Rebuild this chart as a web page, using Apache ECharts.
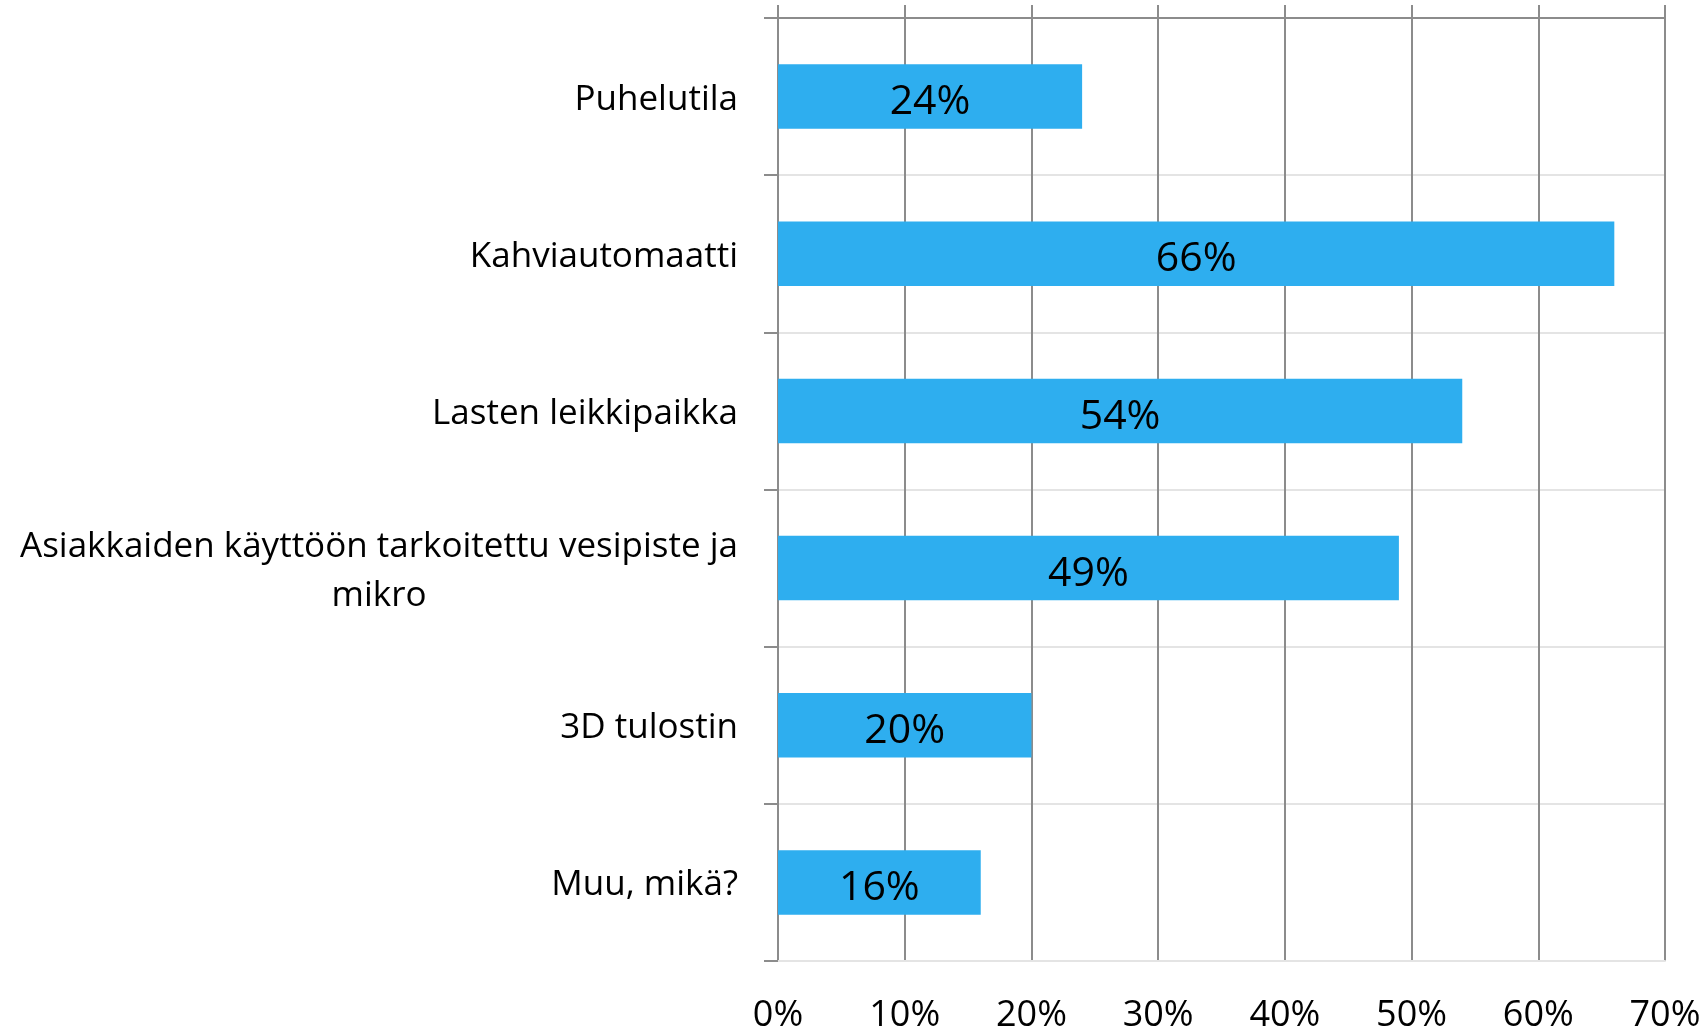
<!doctype html>
<html>

<head>
    <meta charset="utf-8">
    <script src="https://cdn.jsdelivr.net/npm/echarts@6/dist/echarts.min.js"></script>
    <style>
        html, body {
            margin: 0;
            padding: 0;
            background: #fff;
        }

        #chart {
            width: 1706px;
            height: 1034px;
        }
    </style>
</head>

<body>
    <div id="chart"></div>
</body>

<script type="text/javascript">
    // 类目（从上到下）
    var categories = [
        'Puhelutila',
        'Kahviautomaatti',
        'Lasten leikkipaikka',
        'Asiakkaiden käyttöön tarkoitettu vesipiste ja\nmikro',
        '3D tulostin',
        'Muu, mikä?'
    ];
    // 百分比
    var values = [24, 66, 54, 49, 20, 16];
    var axisMin = 0;
    var axisMax = 70;
    var axisStep = 10;

    var font = 'Open Sans';
    var darkLine = '#8c8c8c';
    var lightLine = '#e4e4e4';

    var chart = echarts.init(document.getElementById('chart'));

    var option = {
        animation: false,
        backgroundColor: '#fff',
        grid: {
            left: 778,
            right: 41,
            top: 18,
            bottom: 72,
            containLabel: false
        },
        xAxis: [{
            type: 'value',
            position: 'bottom',
            min: axisMin,
            max: axisMax,
            interval: axisStep,
            axisLine: { show: true, lineStyle: { color: lightLine, width: 2 } },
            axisTick: { show: false },
            axisLabel: {
                formatter: '{value}%',
                fontFamily: font,
                fontSize: 36,
                color: '#000',
                margin: 37
            },
            splitLine: { show: true, lineStyle: { color: darkLine, width: 2 } }
        }, {
            // 顶部的深色线和向上伸出的短刻度
            type: 'value',
            position: 'top',
            min: axisMin,
            max: axisMax,
            interval: axisStep,
            axisLine: { show: true, lineStyle: { color: darkLine, width: 2 } },
            axisTick: { show: true, length: 13, lineStyle: { color: darkLine, width: 2 } },
            axisLabel: { show: false },
            splitLine: { show: false }
        }],
        yAxis: {
            type: 'category',
            data: categories,
            inverse: true,
            axisLine: { show: true, lineStyle: { color: darkLine, width: 2 } },
            axisTick: { show: true, length: 14, lineStyle: { color: darkLine, width: 2 } },
            splitLine: { show: true, lineStyle: { color: lightLine, width: 2 } },
            axisLabel: {
                margin: 40,
                formatter: function (v) {
                    return v.split('\n').map(function (s) { return '{c|' + s + '}'; }).join('\n');
                },
                rich: {
                    c: {
                        align: 'center',
                        fontFamily: font,
                        fontSize: 35,
                        lineHeight: 49,
                        padding: [6, 0, 0, 0],
                        color: '#000'
                    }
                }
            }
        },
        series: [{
            type: 'bar',
            xAxisIndex: 0,
            data: values,
            barWidth: '41%',
            itemStyle: { color: '#2eaeef' },
            label: {
                show: true,
                position: 'inside',
                formatter: '{c}%',
                fontFamily: font,
                fontSize: 41,
                color: '#000',
                offset: [0, 6]
            }
        }]
    };

    chart.setOption(option);
</script>

</html>
